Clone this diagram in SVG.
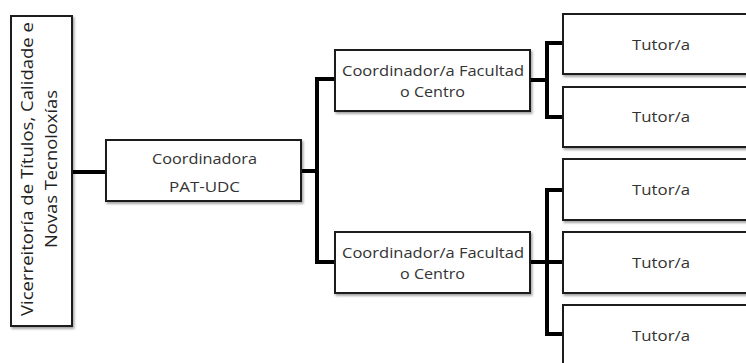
<svg xmlns="http://www.w3.org/2000/svg" width="746" height="363" viewBox="0 0 746 363">
<defs>
<filter id="sh" x="-10%" y="-10%" width="130%" height="130%">
<feDropShadow dx="1.5" dy="2" stdDeviation="1.2" flood-color="#000" flood-opacity="0.35"/>
</filter>
</defs>
<style>
.box{fill:#fff;stroke:#1a1a1a;stroke-width:2;filter:url(#sh)}
.t{font-family:"Open Sans","Liberation Sans",sans-serif;font-size:14.5px;fill:#333;text-anchor:middle}
.v{font-family:"Open Sans","Liberation Sans",sans-serif;font-size:16px;fill:#222;text-anchor:middle}
.c{fill:none;stroke:#000;stroke-width:4;stroke-linejoin:miter}
</style>
<rect width="746" height="363" fill="#fff"/>
<g id="connectors">
<path class="c" d="M72 172H106"/>
<path class="c" d="M301 171H317M335 79H317V262H335"/>
<path class="c" d="M530 80H547M563 43H547V117H563"/>
<path class="c" d="M530 262H563M563 190H547V334H563"/>
</g>
<g id="vicerreitoria">
<rect class="box" x="11" y="16" width="61" height="310"/>
<text class="v" transform="translate(33 169) rotate(-90)" textLength="294" lengthAdjust="spacingAndGlyphs">Vicerreitoría de Títulos, Calidade e</text>
<text class="v" transform="translate(57 169) rotate(-90)" textLength="158" lengthAdjust="spacingAndGlyphs">Novas Tecnoloxías</text>
</g>
<g id="coordinadora">
<rect class="box" x="106" y="140" width="195" height="61"/>
<text class="t" x="204.5" y="164" textLength="105" lengthAdjust="spacingAndGlyphs">Coordinadora</text>
<text class="t" x="204.5" y="192" textLength="71" lengthAdjust="spacingAndGlyphs">PAT-UDC</text>
</g>
<g id="coord1">
<rect class="box" x="335" y="50" width="195" height="61"/>
<text class="t" x="433" y="76" textLength="182" lengthAdjust="spacingAndGlyphs">Coordinador/a Facultad</text>
<text class="t" x="432.5" y="97" textLength="65" lengthAdjust="spacingAndGlyphs">o Centro</text>
</g>
<g id="coord2">
<rect class="box" x="335" y="232" width="195" height="61"/>
<text class="t" x="433" y="258" textLength="182" lengthAdjust="spacingAndGlyphs">Coordinador/a Facultad</text>
<text class="t" x="432.5" y="279" textLength="65" lengthAdjust="spacingAndGlyphs">o Centro</text>
</g>
<g id="tutor1">
<rect class="box" x="563" y="14" width="195" height="60"/>
<text class="t" x="661" y="50" textLength="58" lengthAdjust="spacingAndGlyphs">Tutor/a</text>
</g>
<g id="tutor2">
<rect class="box" x="563" y="87" width="195" height="60"/>
<text class="t" x="661" y="122" textLength="58" lengthAdjust="spacingAndGlyphs">Tutor/a</text>
</g>
<g id="tutor3">
<rect class="box" x="563" y="159" width="195" height="61"/>
<text class="t" x="661" y="195" textLength="58" lengthAdjust="spacingAndGlyphs">Tutor/a</text>
</g>
<g id="tutor4">
<rect class="box" x="563" y="232" width="195" height="61"/>
<text class="t" x="661" y="268" textLength="58" lengthAdjust="spacingAndGlyphs">Tutor/a</text>
</g>
<g id="tutor5">
<rect class="box" x="563" y="305" width="195" height="70"/>
<text class="t" x="661" y="341" textLength="58" lengthAdjust="spacingAndGlyphs">Tutor/a</text>
</g>
</svg>
